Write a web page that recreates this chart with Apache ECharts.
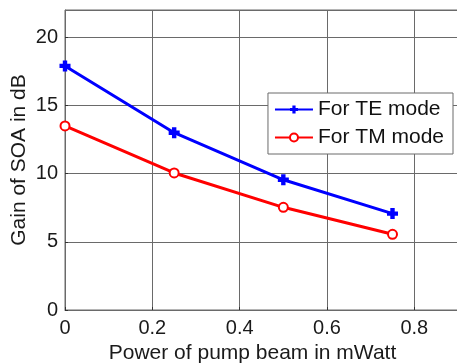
<!DOCTYPE html>
<html>
<head>
<meta charset="utf-8">
<script src="https://cdn.jsdelivr.net/npm/echarts@6/dist/echarts.min.js"></script>
<style>
  html, body { margin: 0; padding: 0; background: #fff; }
  #chart { width: 457px; height: 363px; }
</style>
</head>
<body>
<div id="chart"></div>
<script>
// pump power (mW) and SOA gain (dB)
const pumpPower = [0, 0.25, 0.5, 0.75];
const gainTE = [17.9, 13.0, 9.55, 7.07];
const gainTM = [13.5, 10.05, 7.53, 5.55];
const seriesNames = ['For TE mode', 'For TM mode'];

const plusPath = 'path://M3,0H7V3H10V7H7V10H3V7H0V3H3Z';
const font = 'Liberation Sans, Arial, sans-serif';
const gridGray = '#6a6a6a';

const chart = echarts.init(document.getElementById('chart'), null, { renderer: 'canvas' });

const axisCommon = {
  axisLine: { show: true, lineStyle: { color: gridGray, width: 1 } },
  axisTick: { show: true, inside: true, length: 3, lineStyle: { color: '#333' } },
  splitLine: { show: true, lineStyle: { color: gridGray, width: 1 } },
  axisLabel: { color: '#1a1a1a', fontFamily: font, fontSize: 20 }
};

chart.setOption({
  animation: false,
  backgroundColor: '#fff',
  grid: {
    left: 65, right: -1, top: 10, bottom: 53,
    outerBoundsMode: 'none',
    containLabel: false,
    show: true, borderColor: gridGray, borderWidth: 1
  },
  legend: {
    data: seriesNames,
    orient: 'vertical',
    right: 4, top: 93,
    backgroundColor: '#fff',
    borderColor: gridGray, borderWidth: 1,
    padding: [6, 9, 6, 6],
    itemGap: 7,
    itemWidth: 38, itemHeight: 10,
    textStyle: { fontFamily: font, fontSize: 21, color: '#111' }
  },
  xAxis: Object.assign({}, axisCommon, {
    type: 'value',
    min: 0, max: 0.9, interval: 0.2,
    name: 'Power of pump beam in mWatt',
    nameLocation: 'middle',
    nameGap: 33,
    nameTextStyle: { fontFamily: font, fontSize: 21, color: '#1a1a1a', padding: [0, 18, 0, 0] },
    axisLabel: Object.assign({}, axisCommon.axisLabel, {
      margin: 8,
      showMaxLabel: false,
      formatter: v => (v === 0 ? '0' : String(Math.round(v * 10) / 10))
    })
  }),
  yAxis: Object.assign({}, axisCommon, {
    type: 'value',
    min: 0, max: 22, interval: 5,
    name: 'Gain of SOA in dB',
    nameLocation: 'middle',
    nameGap: 35,
    nameMoveOverlap: false,
    nameTextStyle: { fontFamily: font, fontSize: 21, color: '#1a1a1a' },
    axisLabel: Object.assign({}, axisCommon.axisLabel, { margin: 7, showMaxLabel: false })
  }),
  series: [
    {
      name: seriesNames[0],
      type: 'line',
      data: pumpPower.map((x, i) => [x, gainTE[i]]),
      lineStyle: { color: '#0000ff', width: 3 },
      itemStyle: { color: '#0000ff' },
      symbol: plusPath,
      symbolSize: 11,
      showAllSymbol: true
    },
    {
      name: seriesNames[1],
      type: 'line',
      data: pumpPower.map((x, i) => [x, gainTM[i]]),
      lineStyle: { color: '#ff0000', width: 3 },
      itemStyle: { color: '#ff0000', borderColor: '#ff0000', borderWidth: 2.5 },
      symbol: 'emptyCircle',
      symbolSize: 9,
      showAllSymbol: true
    }
  ]
});
</script>
</body>
</html>
